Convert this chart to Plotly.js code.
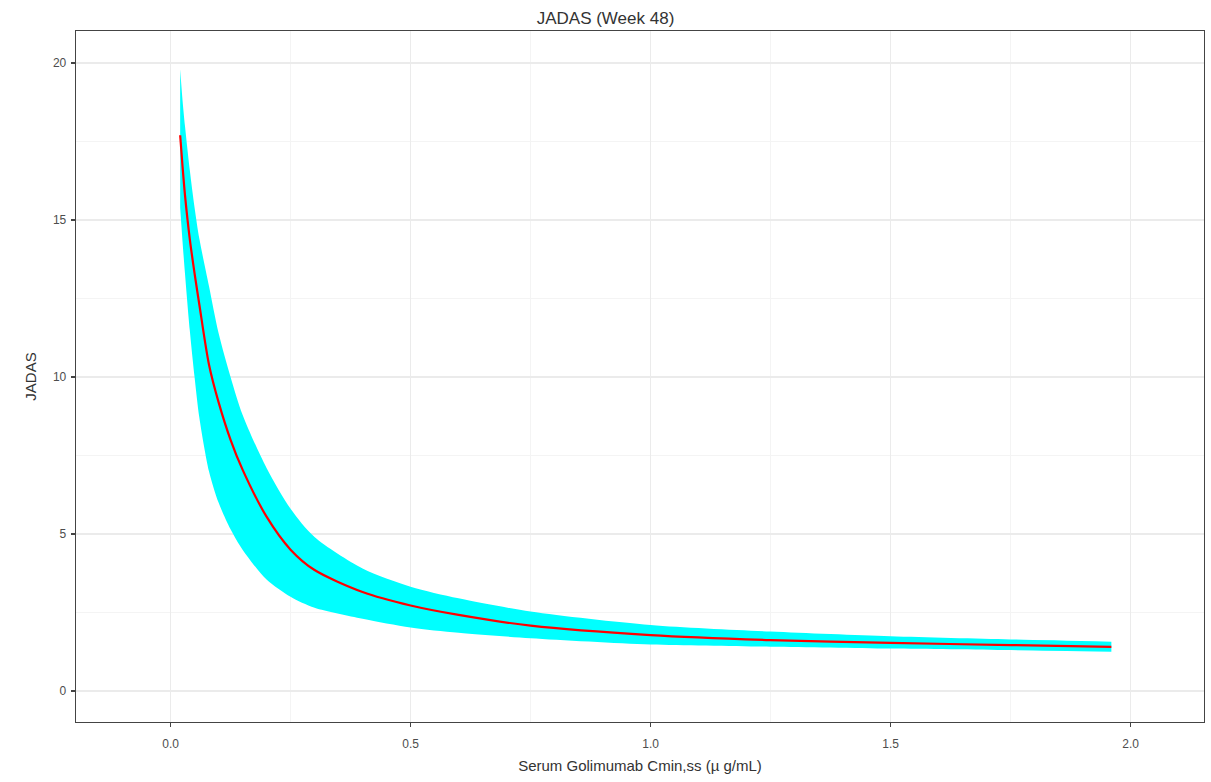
<!DOCTYPE html>
<html>
<head>
<meta charset="utf-8">
<script src="https://cdn.plot.ly/plotly-3.0.1.min.js"></script>
<style>html,body{margin:0;padding:0;background:#fff;}#chart{width:1211px;height:782px;}</style>
</head>
<body>
<div id="chart"></div>
<script>
// Serum golimumab Cmin,ss (µg/mL)
const conc = [0.02, 0.025, 0.03, 0.04, 0.05, 0.06, 0.08, 0.1, 0.125, 0.15, 0.2, 0.25, 0.3, 0.4, 0.5, 0.6, 0.75, 1.0, 1.25, 1.5, 1.75, 1.96];
// Median predicted JADAS
const jadasMedian = [17.7, 16.7, 15.8, 14.4, 13.3, 12.3, 10.4, 9.2, 8.0, 7.05, 5.55, 4.5, 3.85, 3.15, 2.72, 2.42, 2.08, 1.78, 1.62, 1.53, 1.46, 1.40];
// Lower and upper bounds of the band
const jadasLower = [15.4, 14.3, 13.3, 11.5, 10.0, 8.7, 7.0, 6.0, 5.15, 4.5, 3.55, 3.0, 2.65, 2.3, 2.02, 1.85, 1.68, 1.48, 1.41, 1.35, 1.30, 1.25];
const jadasUpper = [19.8, 18.8, 18.0, 16.6, 15.4, 14.4, 12.9, 11.4, 10.0, 8.8, 7.1, 5.8, 4.9, 3.9, 3.32, 2.95, 2.53, 2.10, 1.89, 1.74, 1.64, 1.57];

const font = "'Liberation Sans', Arial, sans-serif";

const traces = [
  {x: conc, y: jadasLower, type: 'scatter', mode: 'lines', line: {width: 0, color: 'rgba(0,0,0,0)', shape: 'spline', smoothing: 0.8}, hoverinfo: 'skip', showlegend: false},
  {x: conc, y: jadasUpper, type: 'scatter', mode: 'lines', fill: 'tonexty', fillcolor: '#00FFFF', line: {width: 0, color: 'rgba(0,0,0,0)', shape: 'spline', smoothing: 0.8}, hoverinfo: 'skip', showlegend: false},
  {x: conc, y: jadasMedian, type: 'scatter', mode: 'lines', line: {color: '#FF0000', width: 2.2, shape: 'spline', smoothing: 0.8}, showlegend: false}
];

const layout = {
  width: 1211, height: 782,
  margin: {l: 76, r: 7, t: 31, b: 60},
  paper_bgcolor: '#ffffff', plot_bgcolor: '#ffffff',
  font: {family: font, color: '#4d4d4d', size: 12},
  title: {text: 'JADAS (Week 48)', x: 0.5, xanchor: 'center', y: 0.977, yanchor: 'middle', font: {family: font, size: 17, color: '#333333'}},
  xaxis: {
    range: [-0.197, 2.153], tickmode: 'array', tickvals: [0, 0.5, 1.0, 1.5, 2.0], ticktext: ['0.0', '0.5', '1.0', '1.5', '2.0'],
    showgrid: true, gridcolor: '#ebebeb', gridwidth: 1.2, zeroline: false,
    minor: {tickmode: 'array', tickvals: [-0.25, 0.25, 0.75, 1.25, 1.75], showgrid: true, gridcolor: '#f4f4f4', gridwidth: 1, ticklen: 0},
    showline: true, mirror: true, linecolor: '#444444', linewidth: 1.3,
    ticks: 'outside', ticklen: 4, tickcolor: '#444444', tickwidth: 1.2,
    ticklabelstandoff: 6,
    tickfont: {family: font, size: 12, color: '#4d4d4d'},
    title: {text: 'Serum Golimumab Cmin,ss (µ g/mL)', standoff: 10, font: {family: font, size: 15, color: '#333333'}}
  },
  yaxis: {
    range: [-0.99, 21.02], tickmode: 'array', tickvals: [0, 5, 10, 15, 20], ticktext: ['0', '5', '10', '15', '20'],
    showgrid: true, gridcolor: '#ebebeb', gridwidth: 1.2, zeroline: false,
    minor: {tickmode: 'array', tickvals: [2.5, 7.5, 12.5, 17.5], showgrid: true, gridcolor: '#f4f4f4', gridwidth: 1, ticklen: 0},
    showline: true, mirror: true, linecolor: '#444444', linewidth: 1.3,
    ticks: 'outside', ticklen: 4, tickcolor: '#444444', tickwidth: 1.2,
    ticklabelstandoff: 2,
    tickfont: {family: font, size: 12, color: '#4d4d4d'},
    title: {text: 'JADAS', standoff: 12, font: {family: font, size: 15, color: '#333333'}}
  }
};

Plotly.newPlot('chart', traces, layout, {displayModeBar: false, staticPlot: true});
</script>
</body>
</html>
